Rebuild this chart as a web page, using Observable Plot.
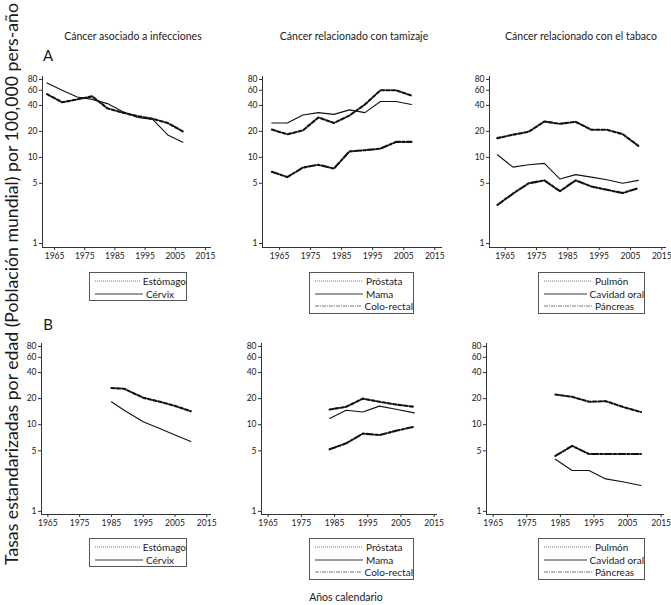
<!DOCTYPE html>
<html><head><meta charset="utf-8">
<script src="https://cdn.jsdelivr.net/npm/d3@7"></script>
<script src="https://cdn.jsdelivr.net/npm/@observablehq/plot@0.6"></script>
<style>
body{margin:0;background:#fff;}
#chart{position:relative;width:671px;height:605px;overflow:hidden;font-family:Lato,"Open Sans",sans-serif;color:#1a1a1a;background:#fff;}
.panel{position:absolute;}
.legend{position:absolute;border:1px solid #555;background:#fff;box-sizing:border-box;padding:2px 0 0 5px;}
.lrow{display:flex;align-items:center;height:12.5px;font-size:10px;white-space:nowrap;}
.lrow svg{margin-right:3px;}
</style></head><body><div id="chart"></div>
<script>
// ---------- data ----------
const groupTitles = ["Cáncer asociado a infecciones", "Cáncer relacionado con tamizaje", "Cáncer relacionado con el tabaco"];
const rowLabels = ["A", "B"];
const yAxisLabel = "Tasas estandarizadas por edad (Población mundial) por 100,000 pers-año";
const xAxisLabel = "Años calendario";
const yTicks = [1, 5, 10, 20, 40, 60, 80];
const xTicks = [1965, 1975, 1985, 1995, 2005, 2015];

const namesInfecciones = ["Estómago", "Cérvix"];
const namesTamizaje = ["Próstata", "Mama", "Colo-rectal"];
const namesTabaco = ["Pulmón", "Cavidad oral", "Páncreas"];

// Row A
const yearsA = [1962.5, 1967.5, 1972.5, 1977.5, 1982.5, 1987.5, 1992.5, 1997.5, 2002.5, 2007.5];
const estomagoA   = [54, 43.5, 47, 51, 37, 33, 30, 28, 25, 20];
const cervixA     = [73, 60, 50, 47, 42, 34, 29, 27.5, 18.2, 15];
const prostataA   = [21, 18.5, 20.5, 29, 25, 30.5, 41, 60, 60, 52];
const mamaA       = [25, 25, 31, 33, 31.5, 35.5, 33, 44.5, 44.5, 41];
const colorectalA = [6.8, 5.9, 7.6, 8.2, 7.4, 11.7, 12.1, 12.6, 15.1, 15.1];
const pulmonA     = [16.7, 18.3, 19.8, 26, 24.5, 25.8, 20.9, 20.9, 18.6, 13.6];
const cavidadA    = [10.7, 7.7, 8.2, 8.5, 5.6, 6.3, 5.9, 5.5, 5.0, 5.4];
const pancreasA   = [2.8, 3.8, 5.0, 5.4, 4.05, 5.4, 4.6, 4.2, 3.85, 4.4];

// Row B
const yearsBinf = [1985, 1989, 1995, 2000, 2005, 2010];
const estomagoB = [26.5, 26, 20.5, 18.5, 16.5, 14.3];
const cervixB   = [18.4, 14.7, 10.8, 9.1, 7.6, 6.4];
const yearsBtam = [1983.5, 1988.5, 1993.5, 1998.5, 2003.5, 2009];
const prostataB   = [15, 16.1, 20, 18.4, 17.1, 16.1];
const mamaB       = [11.8, 14.7, 14, 16.4, 15.1, 13.7];
const colorectalB = [5.2, 6.1, 7.9, 7.6, 8.5, 9.5];
const yearsBtab = [1983.5, 1988.5, 1993.5, 1998.5, 2003.5, 2009];
const pulmonB   = [22.3, 21, 18.4, 18.7, 16.1, 14];
const cavidadB  = [4.0, 2.96, 2.96, 2.37, 2.2, 1.99];
const pancreasB = [4.36, 5.7, 4.6, 4.6, 4.6, 4.6];

// ---------- styles / layout ----------
const lineStyles = [
  {strokeWidth: 2.1, strokeDasharray: "3.5,2"},
  {strokeWidth: 1.1},
  {strokeWidth: 2.1, strokeDasharray: "7,2,2.5,2"}
];
const legendStyles = [
  {w: 0.9, dash: "1,1", color: "#666"},
  {w: 0.9, dash: null, color: "#222"},
  {w: 0.9, dash: "4,1,1,1", color: "#666"}
];

const panels = [
  {years: yearsA, names: namesInfecciones, values: [estomagoA, cervixA], ax: 42, end: 211, yTop: 76, yBot: 247, xd: [1961, 2017], yd: [0.9, 86.6], leg: [89, 272, 98]},
  {years: yearsA, names: namesTamizaje, values: [prostataA, mamaA, colorectalA], ax: 262, end: 442, yTop: 76, yBot: 247, xd: [1959.5, 2017.5], yd: [0.9, 86.6], leg: [309, 272, 105]},
  {years: yearsA, names: namesTabaco, values: [pulmonA, cavidadA, pancreasA], ax: 489, end: 666, yTop: 76, yBot: 247, xd: [1960, 2016.5], yd: [0.9, 86.6], leg: [538, 272, 107]},
  {years: yearsBinf, names: namesInfecciones, values: [estomagoB, cervixB], ax: 41, end: 211, yTop: 343, yBot: 514, xd: [1963, 2016.5], yd: [0.92, 86.6], leg: [89, 538, 98]},
  {years: yearsBtam, names: namesTamizaje, values: [prostataB, mamaB, colorectalB], ax: 261, end: 437, yTop: 343, yBot: 514, xd: [1963, 2016], yd: [0.92, 86.6], leg: [309, 538, 105]},
  {years: yearsBtab, names: namesTabaco, values: [pulmonB, cavidadB, pancreasB], ax: 486, end: 664, yTop: 343, yBot: 514, xd: [1963, 2016], yd: [0.92, 86.6], leg: [538, 538, 107]}
];

const chart = document.getElementById("chart");
const NS = "http://www.w3.org/2000/svg";

// overlay texts
const ov = document.createElementNS(NS, "svg");
ov.setAttribute("width", 671); ov.setAttribute("height", 605);
ov.style.position = "absolute"; ov.style.left = "0"; ov.style.top = "0";
function txt(s, x, y, size, opts = {}) {
  const t = document.createElementNS(NS, "text");
  t.textContent = s;
  t.setAttribute("x", x); t.setAttribute("y", y);
  t.setAttribute("font-size", size);
  t.setAttribute("font-family", "Lato, 'Open Sans', sans-serif");
  t.setAttribute("fill", "#1a1a1a");
  t.setAttribute("text-anchor", opts.anchor || "middle");
  if (opts.transform) t.setAttribute("transform", opts.transform);
  if (opts.len) { t.setAttribute("textLength", opts.len); t.setAttribute("lengthAdjust", "spacingAndGlyphs"); }
  ov.appendChild(t);
}
const titleX = [133, 354, 581];
groupTitles.forEach((g, i) => txt(g, titleX[i], 40, 10.5));
txt(rowLabels[0], 48, 61, 15);
txt(rowLabels[1], 48, 330, 15);
txt(yAxisLabel, 0, 0, 17, {transform: "translate(18,284) rotate(-90)", len: 562});
txt(xAxisLabel, 346, 601, 10.5);
chart.appendChild(ov);

const mL = 28, mR = 8, mT = 6, mB = 20;
panels.forEach(p => {
  const marks = [
    Plot.ruleX([p.xd[0]], {stroke: "#333", strokeWidth: 1}),
    Plot.ruleY([p.yd[0]], {stroke: "#333", strokeWidth: 1}),
    Plot.axisX(xTicks, {tickSize: 3, tickPadding: 2, text: d => String(d), stroke: "#333"}),
    Plot.axisY(yTicks, {tickSize: 3, tickPadding: 2, text: d => String(d), stroke: "#333"})
  ];
  p.names.forEach((name, i) => {
    const rows = p.years.map((x, j) => ({x, y: p.values[i][j], name}));
    marks.push(Plot.line(rows, {x: "x", y: "y", stroke: "#111", strokeLinejoin: "round", ...lineStyles[i]}));
  });
  const svg = Plot.plot({
    width: (p.end - p.ax) + mL + mR,
    height: (p.yBot - p.yTop) + mT + mB,
    marginLeft: mL, marginRight: mR, marginTop: mT, marginBottom: mB,
    x: {domain: p.xd, label: null},
    y: {type: "log", domain: p.yd, label: null},
    style: {fontSize: "8.5px", fontFamily: "Lato, 'Open Sans', sans-serif", color: "#1a1a1a", background: "transparent", overflow: "visible"},
    marks
  });
  svg.classList.add("panel");
  svg.style.left = (p.ax - mL) + "px";
  svg.style.top = (p.yTop - mT) + "px";
  chart.appendChild(svg);

  // legend
  const lg = document.createElement("div");
  lg.className = "legend";
  lg.style.left = p.leg[0] + "px";
  lg.style.top = p.leg[1] + "px";
  lg.style.width = p.leg[2] + "px";
  lg.style.height = (p.names.length * 12.5 + 4) + "px";
  p.names.forEach((name, i) => {
    const r = document.createElement("div");
    r.className = "lrow";
    const s = document.createElementNS(NS, "svg");
    s.setAttribute("width", 48); s.setAttribute("height", 6);
    const l = document.createElementNS(NS, "line");
    l.setAttribute("x1", 0); l.setAttribute("x2", 48); l.setAttribute("y1", 3); l.setAttribute("y2", 3);
    l.setAttribute("stroke", legendStyles[i].color);
    l.setAttribute("stroke-width", legendStyles[i].w);
    if (legendStyles[i].dash) l.setAttribute("stroke-dasharray", legendStyles[i].dash);
    s.appendChild(l);
    r.appendChild(s);
    const sp = document.createElement("span");
    sp.textContent = name;
    r.appendChild(sp);
    lg.appendChild(r);
  });
  chart.appendChild(lg);
});
</script></body></html>
